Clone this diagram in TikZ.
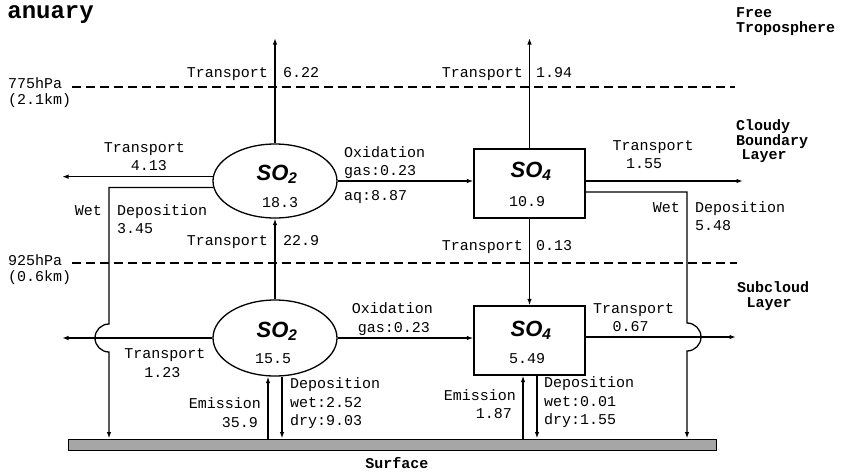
\documentclass[tikz,border=0pt]{standalone}
\usepackage{fontspec}
\usetikzlibrary{shapes.geometric,arrows.meta}
\newfontfamily\monofam{Liberation Mono}
\newfontfamily\sofam{Liberation Sans}
\begin{document}
\begin{tikzpicture}[x=1pt,y=-1pt,
  lab/.style={font=\monofam\fontsize{15}{15}\selectfont, inner sep=0pt},
  blab/.style={font=\monofam\bfseries\fontsize{15}{15}\selectfont, inner sep=0pt},
  spec/.style={font=\sofam\bfseries\itshape\fontsize{22}{22}\selectfont, inner sep=0pt},
  arr/.style={line width=1.3pt, -{Latex[length=6.5pt,width=4.5pt]}},
  dashline/.style={line width=1.3pt, dash pattern=on 9pt off 5pt},
  resv/.style={draw, line width=1.3pt, fill=white, inner sep=0pt}]
\useasboundingbox (0,0) rectangle (843,472);

% title
\node[font=\monofam\bfseries\fontsize{24}{24}\selectfont, inner sep=0pt, anchor=base east] (title) at (94,18) {anuary};

% layer labels
\node[blab, anchor=base west] (freeA) at (736,17) {Free};
\node[blab, anchor=base west] (freeB) at (736,32) {Troposphere};
\node[blab, anchor=base west] (cbA) at (736,130) {Cloudy};
\node[blab, anchor=base west] (cbB) at (736,145) {Boundary};
\node[blab, anchor=base] (cbC) at (764,159) {Layer};
\node[blab, anchor=base] (scA) at (773,292) {Subcloud};
\node[blab, anchor=base] (scB) at (769,307) {Layer};

% pressure levels
\node[lab, anchor=base west] (p775) at (8,88) {775hPa};
\node[lab, anchor=base west] (k775) at (8,104) {(2.1km)};
\node[lab, anchor=base west] (p925) at (8,265) {925hPa};
\node[lab, anchor=base west] (k925) at (8,281) {(0.6km)};
\coordinate (dA1) at (72,87);  \coordinate (dA2) at (735,87);
\coordinate (dB1) at (72,263); \coordinate (dB2) at (737,263);
\draw[dashline] (dA1) -- (dA2);
\draw[dashline] (dB1) -- (dB2);

% reservoirs
\node[resv, ellipse, minimum width=124pt, minimum height=74pt] (so2u) at (275,181) {};
\node[resv, rectangle, minimum width=111pt, minimum height=69pt] (so4u) at (529.5,183.5) {};
\node[resv, ellipse, minimum width=124pt, minimum height=76pt] (so2l) at (275,338) {};
\node[resv, rectangle, minimum width=111pt, minimum height=69pt] (so4l) at (529.5,340.5) {};
\node[draw, line width=1pt, fill=black!35, minimum width=648pt, minimum height=11pt, inner sep=0pt] (surf) at (392,444.5) {};

\node[spec, anchor=base] (so2ut) at (277,180) {SO\textsubscript{2}};
\node[lab, anchor=base] (so2un) at (280,207) {18.3};
\node[spec, anchor=base] (so4ut) at (531,177) {SO\textsubscript{4}};
\node[lab, anchor=base] (so4un) at (527,206) {10.9};
\node[spec, anchor=base] (so2lt) at (277,337) {SO\textsubscript{2}};
\node[lab, anchor=base] (so2ln) at (273,363) {15.5};
\node[spec, anchor=base] (so4lt) at (531,336) {SO\textsubscript{4}};
\node[lab, anchor=base] (so4ln) at (527,363) {5.49};
\node[blab, anchor=base] (surft) at (397,468) {Surface};

% helper coordinates
\coordinate (tU) at (0,38);
\coordinate (lU) at (62,0);
\coordinate (rA) at (743,181);
\coordinate (rB) at (736,337);
\coordinate (wR0) at (0,192);
\coordinate (wL) at (109,324);
\coordinate (wR) at (687,323);
\coordinate (e1) at (268,0);
\coordinate (d1) at (282,0);
\coordinate (e2) at (523,0);
\coordinate (d2) at (537,0);

% connectors
\draw[arr] (so2u.north) -- (so2u.north |- tU);
\draw[arr] (so4u.north) -- (so4u.north |- tU);
\draw[arr] (so2u.176.3) -- (so2u.176.3 -| lU);
\draw[arr] (so2u.186.5) -| (wL) arc[start angle=90, end angle=270, radius=14pt] -- (wL |- surf.north);
\draw[arr] (so2u.east) -- (so2u.east -| so4u.west);
\draw[arr] (so2l.north) -- (so2u.south);
\draw[arr] (so4u.south) -- (so4l.north);
\draw[arr] (so4u.east |- rA) -- (rA);
\draw[arr] (so4u.east |- wR0) -| (wR) arc[start angle=90, end angle=-90, radius=14pt] -- (wR |- surf.north);
\draw[arr] (so2l.west) -- (so2l.west -| lU);
\draw[arr] (so2l.east) -- (so2l.east -| so4l.west);
\draw[arr] (so4l.east |- rB) -- (rB);
\draw[arr] (surf.north -| e1) -- (so2l.south -| e1);
\draw[arr] (so2l.south -| d1) -- (surf.north -| d1);
\draw[arr] (surf.north -| e2) -- (so4l.south -| e2);
\draw[arr] (so4l.south -| d2) -- (surf.north -| d2);

% flux labels, upper
\node[lab, anchor=base east] (t1) at (268,77) {Transport};
\node[lab, anchor=base west] (t1v) at (283,77) {6.22};
\node[lab, anchor=base east] (t2) at (523,77) {Transport};
\node[lab, anchor=base west] (t2v) at (536,77) {1.94};
\node[lab, anchor=base] (t3) at (144.5,152) {Transport};
\node[lab, anchor=base] (t3v) at (149,170) {4.13};
\node[lab, anchor=base east] (w1) at (102,215) {Wet};
\node[lab, anchor=base west] (w1a) at (117,215) {Deposition};
\node[lab, anchor=base west] (w1v) at (117,233) {3.45};
\node[lab, anchor=base west] (o1) at (344,157) {Oxidation};
\node[lab, anchor=base west] (o1g) at (344,175) {gas:0.23};
\node[lab, anchor=base west] (o1a) at (344,200) {aq:8.87};
\node[lab, anchor=base east] (t4) at (268,245) {Transport};
\node[lab, anchor=base west] (t4v) at (283,245) {22.9};
\node[lab, anchor=base east] (t5) at (523,250) {Transport};
\node[lab, anchor=base west] (t5v) at (536,250) {0.13};
\node[lab, anchor=base] (t6) at (653,150) {Transport};
\node[lab, anchor=base] (t6v) at (644,168) {1.55};
\node[lab, anchor=base east] (w2) at (680,212) {Wet};
\node[lab, anchor=base west] (w2a) at (695,212) {Deposition};
\node[lab, anchor=base west] (w2v) at (695,230) {5.48};

% flux labels, lower
\node[lab, anchor=base] (t7) at (165,358) {Transport};
\node[lab, anchor=base] (t7v) at (162.5,377) {1.23};
\node[lab, anchor=base] (o2) at (392.5,313) {Oxidation};
\node[lab, anchor=base] (o2g) at (394,332) {gas:0.23};
\node[lab, anchor=base] (t8) at (633.5,313) {Transport};
\node[lab, anchor=base] (t8v) at (630.5,331) {0.67};
\node[lab, anchor=base east] (em1) at (261,408) {Emission};
\node[lab, anchor=base east] (em1v) at (258,427) {35.9};
\node[lab, anchor=base west] (dp1) at (290,388) {Deposition};
\node[lab, anchor=base west] (dp1w) at (290,407) {wet:2.52};
\node[lab, anchor=base west] (dp1d) at (290,425) {dry:9.03};
\node[lab, anchor=base east] (em2) at (516,400) {Emission};
\node[lab, anchor=base east] (em2v) at (512,418) {1.87};
\node[lab, anchor=base west] (dp2) at (544,387) {Deposition};
\node[lab, anchor=base west] (dp2w) at (544,406) {wet:0.01};
\node[lab, anchor=base west] (dp2d) at (544,424) {dry:1.55};
\end{tikzpicture}
\end{document}
